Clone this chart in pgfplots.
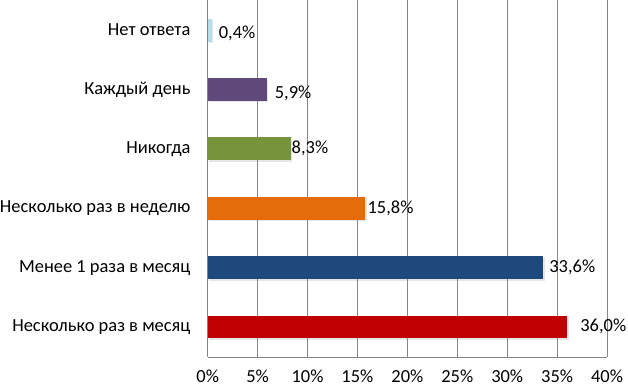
\documentclass[border=0pt]{standalone}
\usepackage{fontspec}
\setmainfont{Carlito}
\usepackage{pgfplots}
\pgfplotsset{compat=1.18}
\usetikzlibrary{shadows}
\definecolor{cNone}{HTML}{B7DEE8}
\definecolor{cDaily}{HTML}{604A7B}
\definecolor{cNever}{HTML}{77933C}
\definecolor{cWeek}{HTML}{E46C0A}
\definecolor{cLess}{HTML}{1F497D}
\definecolor{cMonth}{HTML}{C00000}
\definecolor{gridc}{HTML}{868686}

\begin{document}
\begin{tikzpicture}
\begin{axis}[
    scale only axis, width=399bp, height=356bp,
    xbar, bar shift=0pt, bar width=0.385,
    xmin=0, xmax=40, ymin=0.5, ymax=6.5,
    xtick={0,5,...,40},
    xticklabel={\pgfmathprintnumber{\tick}\%},
    ytick={1,...,6},
    yticklabels={Несколько раз в месяц, Менее 1 раза в месяц, Несколько раз в неделю, Никогда, Каждый день, Нет ответа},
    axis x line*=bottom, axis y line*=left,
    axis line style={gridc},
    xmajorgrids, grid style={gridc, line width=0.8pt},
    major tick length=0pt,
    /pgf/number format/assume math mode=true,
    tick label style={font=\fontsize{18.5}{22}\selectfont, inner sep=0pt},
    xticklabel style={inner sep=5bp, yshift=-8bp},
    yticklabel style={xshift=-17bp},
    point meta=x,
    nodes near coords={\pgfmathprintnumber[fixed,fixed zerofill,precision=1,use comma]{\pgfplotspointmeta}\%},
    nodes near coords style={anchor=west, inner sep=0pt, font=\fontsize{18.5}{22}\selectfont},
    every axis plot/.append style={draw=none, drop shadow={shadow xshift=1.5bp, shadow yshift=-1.5bp, opacity=0.2}},
]
\addplot[fill=cMonth, every node near coord/.append style={xshift=13bp, yshift=1bp}] coordinates {(36.0,1)};
\addplot[fill=cLess, every node near coord/.append style={xshift=6bp}]  coordinates {(33.6,2)};
\addplot[fill=cWeek, every node near coord/.append style={xshift=2bp}]  coordinates {(15.8,3)};
\addplot[fill=cNever, every node near coord/.append style={xshift=1bp}] coordinates {(8.3,4)};
\addplot[fill=cDaily, every node near coord/.append style={xshift=8bp, yshift=-4bp}] coordinates {(5.9,5)};
\addplot[fill=cNone, every node near coord/.append style={xshift=7bp, yshift=-3bp}]  coordinates {(0.4,6)};
\end{axis}
\end{tikzpicture}
\end{document}
